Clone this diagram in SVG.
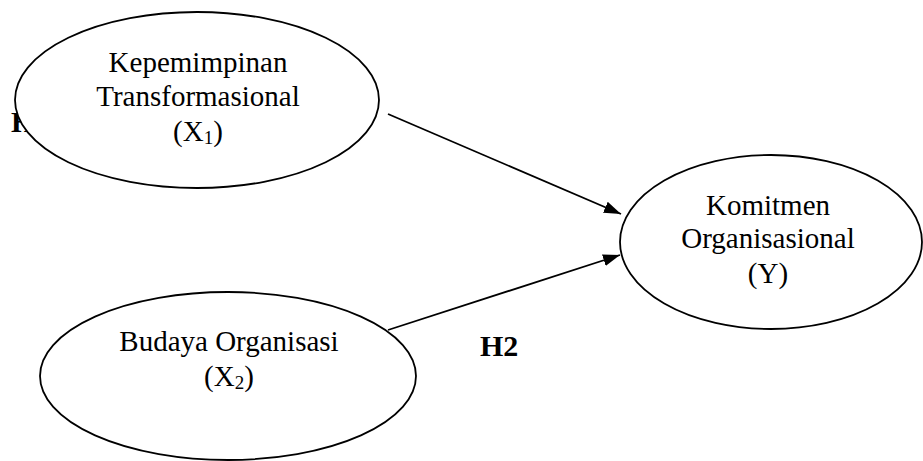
<svg xmlns="http://www.w3.org/2000/svg" width="923" height="461" viewBox="0 0 923 461">
<style>
.node{fill:#fff;stroke:#000;stroke-width:1.8}
.t{font-family:"Liberation Serif","Times New Roman",serif;font-size:29px;fill:#000;text-anchor:middle}
.sub{font-size:19px}
.lbl{font-family:"Liberation Serif","Times New Roman",serif;font-size:30px;font-weight:bold;fill:#000}
.edge{stroke:#000;stroke-width:1.8;fill:none}
</style>
<defs>
<marker id="ah" viewBox="0 0 10 10" refX="10" refY="5" markerWidth="17" markerHeight="12" markerUnits="userSpaceOnUse" orient="auto" preserveAspectRatio="none">
<path d="M0,0 L10,5 L0,10 Z" fill="#000"/>
</marker>
</defs>
<rect width="923" height="461" fill="#fff"/>
<text class="lbl" x="11" y="132">H1</text>
<text class="lbl" x="480" y="356">H2</text>
<g id="connectors">
<line class="edge" x1="388" y1="114" x2="621" y2="214" marker-end="url(#ah)"/>
<line class="edge" x1="388" y1="330" x2="620" y2="255" marker-end="url(#ah)"/>
</g>
<g id="x1">
<ellipse class="node" cx="197" cy="100" rx="182" ry="88"/>
<text class="t" x="198" y="72">Kepemimpinan</text>
<text class="t" x="198" y="106">Transformasional</text>
<text class="t" x="198" y="141">(X<tspan class="sub" dy="3">1</tspan><tspan dy="-3">)</tspan></text>
</g>
<g id="x2">
<ellipse class="node" cx="228" cy="376" rx="188" ry="84"/>
<text class="t" x="229" y="351">Budaya Organisasi</text>
<text class="t" x="229" y="386">(X<tspan class="sub" dy="3">2</tspan><tspan dy="-3">)</tspan></text>
</g>
<g id="y">
<ellipse class="node" cx="771" cy="242" rx="151" ry="87"/>
<text class="t" x="768" y="215">Komitmen</text>
<text class="t" x="768" y="248">Organisasional</text>
<text class="t" x="768" y="283">(Y)</text>
</g>
</svg>
